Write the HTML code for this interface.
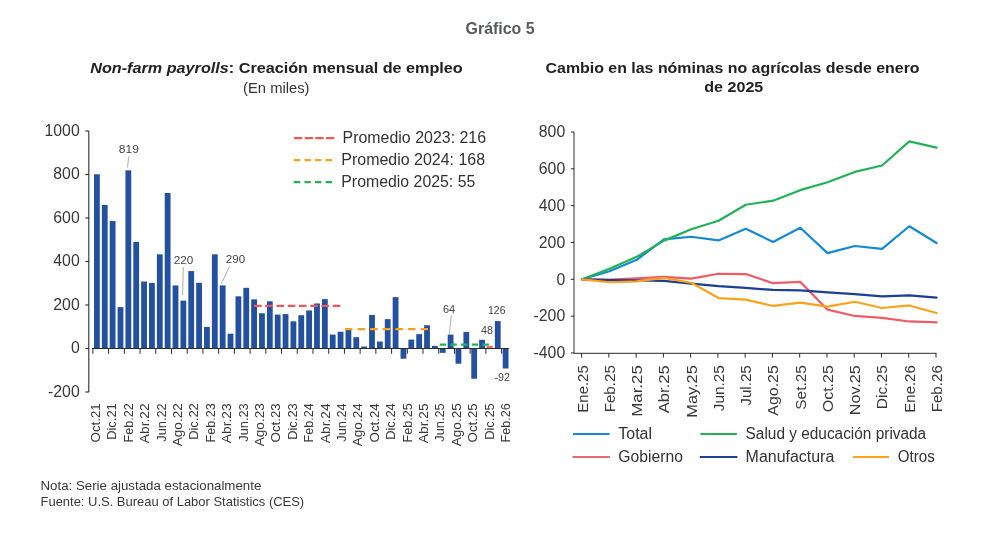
<!DOCTYPE html>
<html lang="es"><head><meta charset="utf-8"><title>Gráfico 5</title>
<style>html,body{margin:0;padding:0;background:#fff}svg{display:block}text{font-family:'Liberation Sans', Arial, sans-serif}</style>
</head><body>
<svg width="1001" height="542" viewBox="0 0 1001 542">
<rect width="1001" height="542" fill="#fff"/>
<text x="500.1" y="33.8" font-size="16.1" fill="#58595b" text-anchor="middle" font-weight="bold" textLength="69" lengthAdjust="spacingAndGlyphs">Gráfico 5</text>
<text x="276.5" y="72.9" font-size="15.3" fill="#222" text-anchor="middle" font-weight="bold" textLength="372.5" lengthAdjust="spacingAndGlyphs"><tspan font-style="italic">Non-farm payrolls</tspan>: Creación mensual de empleo</text>
<text x="276.3" y="93" font-size="14.5" fill="#333" text-anchor="middle" textLength="66.5" lengthAdjust="spacingAndGlyphs">(En miles)</text>
<text x="732.6" y="72.9" font-size="15.3" fill="#222" text-anchor="middle" font-weight="bold" textLength="374" lengthAdjust="spacingAndGlyphs">Cambio en las nóminas no agrícolas desde enero</text>
<text x="733.8" y="92.1" font-size="15.3" fill="#222" text-anchor="middle" font-weight="bold" textLength="59" lengthAdjust="spacingAndGlyphs">de 2025</text>
<g stroke="#2b2b2b" stroke-width="1.1" fill="none">
<path d="M88.8 131V392"/>
<path d="M85.3 392.00H88.8"/>
<path d="M85.3 348.50H88.8"/>
<path d="M85.3 305.00H88.8"/>
<path d="M85.3 261.50H88.8"/>
<path d="M85.3 218.00H88.8"/>
<path d="M85.3 174.50H88.8"/>
<path d="M85.3 131.00H88.8"/>
</g>
<text x="79.7" y="396.9" font-size="15.8" fill="#383838" text-anchor="end">-200</text>
<text x="79.7" y="353.4" font-size="15.8" fill="#383838" text-anchor="end">0</text>
<text x="79.7" y="309.9" font-size="15.8" fill="#383838" text-anchor="end">200</text>
<text x="79.7" y="266.4" font-size="15.8" fill="#383838" text-anchor="end">400</text>
<text x="79.7" y="222.9" font-size="15.8" fill="#383838" text-anchor="end">600</text>
<text x="79.7" y="179.4" font-size="15.8" fill="#383838" text-anchor="end">800</text>
<text x="79.7" y="135.9" font-size="15.8" fill="#383838" text-anchor="end">1000</text>
<g fill="#23509f">
<rect x="94.00" y="174.28" width="5.8" height="174.22"/>
<rect x="101.86" y="204.95" width="5.8" height="143.55"/>
<rect x="109.72" y="221.05" width="5.8" height="127.45"/>
<rect x="117.58" y="307.18" width="5.8" height="41.33"/>
<rect x="125.44" y="170.37" width="5.8" height="178.13"/>
<rect x="133.30" y="241.93" width="5.8" height="106.58"/>
<rect x="141.16" y="281.51" width="5.8" height="66.99"/>
<rect x="149.02" y="283.03" width="5.8" height="65.47"/>
<rect x="156.88" y="254.32" width="5.8" height="94.18"/>
<rect x="164.74" y="192.99" width="5.8" height="155.51"/>
<rect x="172.60" y="285.43" width="5.8" height="63.08"/>
<rect x="180.46" y="300.65" width="5.8" height="47.85"/>
<rect x="188.32" y="271.07" width="5.8" height="77.43"/>
<rect x="196.18" y="282.81" width="5.8" height="65.69"/>
<rect x="204.04" y="326.97" width="5.8" height="21.53"/>
<rect x="211.90" y="254.32" width="5.8" height="94.18"/>
<rect x="219.76" y="285.43" width="5.8" height="63.08"/>
<rect x="227.62" y="333.71" width="5.8" height="14.79"/>
<rect x="235.48" y="296.30" width="5.8" height="52.20"/>
<rect x="243.34" y="287.82" width="5.8" height="60.68"/>
<rect x="251.20" y="299.35" width="5.8" height="49.16"/>
<rect x="259.06" y="313.26" width="5.8" height="35.23"/>
<rect x="266.92" y="301.30" width="5.8" height="47.20"/>
<rect x="274.78" y="314.57" width="5.8" height="33.93"/>
<rect x="282.64" y="314.13" width="5.8" height="34.37"/>
<rect x="290.50" y="321.31" width="5.8" height="27.19"/>
<rect x="298.36" y="315.22" width="5.8" height="33.28"/>
<rect x="306.22" y="310.44" width="5.8" height="38.06"/>
<rect x="314.08" y="303.48" width="5.8" height="45.02"/>
<rect x="321.94" y="299.13" width="5.8" height="49.37"/>
<rect x="329.80" y="334.58" width="5.8" height="13.92"/>
<rect x="337.66" y="331.75" width="5.8" height="16.75"/>
<rect x="345.52" y="330.01" width="5.8" height="18.49"/>
<rect x="353.38" y="337.19" width="5.8" height="11.31"/>
<rect x="361.24" y="346.54" width="5.8" height="1.96"/>
<rect x="369.10" y="315.00" width="5.8" height="33.49"/>
<rect x="376.96" y="341.54" width="5.8" height="6.96"/>
<rect x="384.82" y="319.14" width="5.8" height="29.36"/>
<rect x="392.68" y="297.17" width="5.8" height="51.33"/>
<rect x="400.54" y="348.5" width="5.8" height="10.22"/>
<rect x="408.40" y="339.58" width="5.8" height="8.92"/>
<rect x="416.26" y="334.14" width="5.8" height="14.36"/>
<rect x="424.12" y="325.23" width="5.8" height="23.27"/>
<rect x="431.98" y="345.89" width="5.8" height="2.61"/>
<rect x="439.84" y="348.5" width="5.8" height="4.35"/>
<rect x="447.70" y="334.58" width="5.8" height="13.92"/>
<rect x="455.56" y="348.5" width="5.8" height="15.22"/>
<rect x="463.42" y="331.97" width="5.8" height="16.53"/>
<rect x="471.28" y="348.5" width="5.8" height="30.23"/>
<rect x="479.14" y="339.80" width="5.8" height="8.70"/>
<rect x="494.86" y="321.10" width="5.8" height="27.41"/>
<rect x="502.72" y="348.5" width="5.8" height="20.01"/>
</g>
<rect x="486.5" y="345.8" width="6.3" height="2.5" fill="#f26a6d"/>
<g stroke="#2b2b2b" stroke-width="1" fill="none">
<path d="M92 348.5H508.8"/>
<path d="M92.90 348.5V353.8"/>
<path d="M108.62 348.5V353.8"/>
<path d="M124.34 348.5V353.8"/>
<path d="M140.06 348.5V353.8"/>
<path d="M155.78 348.5V353.8"/>
<path d="M171.50 348.5V353.8"/>
<path d="M187.22 348.5V353.8"/>
<path d="M202.94 348.5V353.8"/>
<path d="M218.66 348.5V353.8"/>
<path d="M234.38 348.5V353.8"/>
<path d="M250.10 348.5V353.8"/>
<path d="M265.82 348.5V353.8"/>
<path d="M281.54 348.5V353.8"/>
<path d="M297.26 348.5V353.8"/>
<path d="M312.98 348.5V353.8"/>
<path d="M328.70 348.5V353.8"/>
<path d="M344.42 348.5V353.8"/>
<path d="M360.14 348.5V353.8"/>
<path d="M375.86 348.5V353.8"/>
<path d="M391.58 348.5V353.8"/>
<path d="M407.30 348.5V353.8"/>
<path d="M423.02 348.5V353.8"/>
<path d="M438.74 348.5V353.8"/>
<path d="M454.46 348.5V353.8"/>
<path d="M470.18 348.5V353.8"/>
<path d="M485.90 348.5V353.8"/>
<path d="M501.62 348.5V353.8"/>
</g>
<g fill="none" stroke-width="2.3">
<path d="M254 305.85H341.2" stroke="#f0575a" stroke-dasharray="7.6 3.65"/>
<path d="M345 329.1H428" stroke="#f9a11b" stroke-dasharray="7.5 5.1"/>
<path d="M439.7 344.6H489.2" stroke="#23b158" stroke-dasharray="6.4 4.3"/>
</g>
<text transform="translate(99.90 403.3) rotate(-90)" font-size="13.6" fill="#383838" text-anchor="end" textLength="39.1" lengthAdjust="spacingAndGlyphs">Oct.21</text>
<text transform="translate(116.30 403.3) rotate(-90)" font-size="13.6" fill="#383838" text-anchor="end" textLength="36.5" lengthAdjust="spacingAndGlyphs">Dic.21</text>
<text transform="translate(132.70 403.3) rotate(-90)" font-size="13.6" fill="#383838" text-anchor="end" textLength="39.1" lengthAdjust="spacingAndGlyphs">Feb.22</text>
<text transform="translate(149.10 403.3) rotate(-90)" font-size="13.6" fill="#383838" text-anchor="end" textLength="39.9" lengthAdjust="spacingAndGlyphs">Abr.22</text>
<text transform="translate(165.50 403.3) rotate(-90)" font-size="13.6" fill="#383838" text-anchor="end" textLength="38.4" lengthAdjust="spacingAndGlyphs">Jun.22</text>
<text transform="translate(181.90 403.3) rotate(-90)" font-size="13.6" fill="#383838" text-anchor="end" textLength="42.9" lengthAdjust="spacingAndGlyphs">Ago.22</text>
<text transform="translate(198.30 403.3) rotate(-90)" font-size="13.6" fill="#383838" text-anchor="end" textLength="36.5" lengthAdjust="spacingAndGlyphs">Dic.22</text>
<text transform="translate(214.70 403.3) rotate(-90)" font-size="13.6" fill="#383838" text-anchor="end" textLength="39.1" lengthAdjust="spacingAndGlyphs">Feb.23</text>
<text transform="translate(231.10 403.3) rotate(-90)" font-size="13.6" fill="#383838" text-anchor="end" textLength="39.9" lengthAdjust="spacingAndGlyphs">Abr.23</text>
<text transform="translate(247.50 403.3) rotate(-90)" font-size="13.6" fill="#383838" text-anchor="end" textLength="38.4" lengthAdjust="spacingAndGlyphs">Jun.23</text>
<text transform="translate(263.90 403.3) rotate(-90)" font-size="13.6" fill="#383838" text-anchor="end" textLength="42.9" lengthAdjust="spacingAndGlyphs">Ago.23</text>
<text transform="translate(280.30 403.3) rotate(-90)" font-size="13.6" fill="#383838" text-anchor="end" textLength="39.1" lengthAdjust="spacingAndGlyphs">Oct.23</text>
<text transform="translate(296.70 403.3) rotate(-90)" font-size="13.6" fill="#383838" text-anchor="end" textLength="36.5" lengthAdjust="spacingAndGlyphs">Dic.23</text>
<text transform="translate(313.10 403.3) rotate(-90)" font-size="13.6" fill="#383838" text-anchor="end" textLength="39.1" lengthAdjust="spacingAndGlyphs">Feb.24</text>
<text transform="translate(329.50 403.3) rotate(-90)" font-size="13.6" fill="#383838" text-anchor="end" textLength="39.9" lengthAdjust="spacingAndGlyphs">Abr.24</text>
<text transform="translate(345.90 403.3) rotate(-90)" font-size="13.6" fill="#383838" text-anchor="end" textLength="38.4" lengthAdjust="spacingAndGlyphs">Jun.24</text>
<text transform="translate(362.30 403.3) rotate(-90)" font-size="13.6" fill="#383838" text-anchor="end" textLength="42.9" lengthAdjust="spacingAndGlyphs">Ago.24</text>
<text transform="translate(378.70 403.3) rotate(-90)" font-size="13.6" fill="#383838" text-anchor="end" textLength="39.1" lengthAdjust="spacingAndGlyphs">Oct.24</text>
<text transform="translate(395.10 403.3) rotate(-90)" font-size="13.6" fill="#383838" text-anchor="end" textLength="36.5" lengthAdjust="spacingAndGlyphs">Dic.24</text>
<text transform="translate(411.50 403.3) rotate(-90)" font-size="13.6" fill="#383838" text-anchor="end" textLength="39.1" lengthAdjust="spacingAndGlyphs">Feb.25</text>
<text transform="translate(427.90 403.3) rotate(-90)" font-size="13.6" fill="#383838" text-anchor="end" textLength="39.9" lengthAdjust="spacingAndGlyphs">Abr.25</text>
<text transform="translate(444.30 403.3) rotate(-90)" font-size="13.6" fill="#383838" text-anchor="end" textLength="38.4" lengthAdjust="spacingAndGlyphs">Jun.25</text>
<text transform="translate(460.70 403.3) rotate(-90)" font-size="13.6" fill="#383838" text-anchor="end" textLength="42.9" lengthAdjust="spacingAndGlyphs">Ago.25</text>
<text transform="translate(477.10 403.3) rotate(-90)" font-size="13.6" fill="#383838" text-anchor="end" textLength="39.1" lengthAdjust="spacingAndGlyphs">Oct.25</text>
<text transform="translate(493.50 403.3) rotate(-90)" font-size="13.6" fill="#383838" text-anchor="end" textLength="36.5" lengthAdjust="spacingAndGlyphs">Dic.25</text>
<text transform="translate(509.90 403.3) rotate(-90)" font-size="13.6" fill="#383838" text-anchor="end" textLength="39.1" lengthAdjust="spacingAndGlyphs">Feb.26</text>
<text x="118.8" y="153.1" font-size="11.5" fill="#444" textLength="20" lengthAdjust="spacingAndGlyphs">819</text>
<text x="173.8" y="264.2" font-size="11.5" fill="#444" textLength="19.5" lengthAdjust="spacingAndGlyphs">220</text>
<text x="225.8" y="263.2" font-size="11.5" fill="#444" textLength="19.3" lengthAdjust="spacingAndGlyphs">290</text>
<text x="443" y="312.8" font-size="11.5" fill="#444" textLength="12.2" lengthAdjust="spacingAndGlyphs">64</text>
<text x="488" y="313.8" font-size="11.5" fill="#444" textLength="17.5" lengthAdjust="spacingAndGlyphs">126</text>
<text x="481" y="333.7" font-size="11.5" fill="#444" textLength="12" lengthAdjust="spacingAndGlyphs">48</text>
<text x="494.5" y="380.8" font-size="11.5" fill="#444" textLength="15.5" lengthAdjust="spacingAndGlyphs">-92</text>
<g stroke="#9a9a9a" stroke-width="0.8" fill="none">
<path d="M128.8 156.2L127.5 167.5"/>
<path d="M183.3 267L182.6 295"/>
<path d="M229.5 266.3L221.3 283.8"/>
<path d="M451.2 315.5L449.5 333.5"/>
</g>
<g fill="none" stroke-width="2.3">
<path d="M294 138.1H334.2" stroke="#f0575a" stroke-dasharray="8.3 2.35"/>
<path d="M293.8 160.1H332" stroke="#f9a11b" stroke-dasharray="6.4 4.2"/>
<path d="M293.8 182.2H332" stroke="#23b158" stroke-dasharray="6.4 4.2"/>
</g>
<text x="342.5" y="142.8" font-size="15.8" fill="#333" textLength="143.6" lengthAdjust="spacingAndGlyphs">Promedio 2023: 216</text>
<text x="341.3" y="165" font-size="15.8" fill="#333" textLength="143.8" lengthAdjust="spacingAndGlyphs">Promedio 2024: 168</text>
<text x="341.3" y="187.1" font-size="15.8" fill="#333" textLength="134" lengthAdjust="spacingAndGlyphs">Promedio 2025: 55</text>
<g stroke="#2b2b2b" stroke-width="1" fill="none">
<path d="M574 132V353.3H936.6"/>
<path d="M570.8 352.96H574"/>
<path d="M570.8 316.13H574"/>
<path d="M570.8 279.30H574"/>
<path d="M570.8 242.47H574"/>
<path d="M570.8 205.64H574"/>
<path d="M570.8 168.81H574"/>
<path d="M570.8 131.98H574"/>
<path d="M581.60 353.3V357.6"/>
<path d="M608.86 353.3V357.6"/>
<path d="M636.12 353.3V357.6"/>
<path d="M663.38 353.3V357.6"/>
<path d="M690.64 353.3V357.6"/>
<path d="M717.90 353.3V357.6"/>
<path d="M745.16 353.3V357.6"/>
<path d="M772.42 353.3V357.6"/>
<path d="M799.68 353.3V357.6"/>
<path d="M826.94 353.3V357.6"/>
<path d="M854.20 353.3V357.6"/>
<path d="M881.46 353.3V357.6"/>
<path d="M908.72 353.3V357.6"/>
<path d="M935.98 353.3V357.6"/>
</g>
<text x="565.2" y="358.16" font-size="15.8" fill="#383838" text-anchor="end">-400</text>
<text x="565.2" y="321.33" font-size="15.8" fill="#383838" text-anchor="end">-200</text>
<text x="565.2" y="284.5" font-size="15.8" fill="#383838" text-anchor="end">0</text>
<text x="565.2" y="247.67" font-size="15.8" fill="#383838" text-anchor="end">200</text>
<text x="565.2" y="210.84" font-size="15.8" fill="#383838" text-anchor="end">400</text>
<text x="565.2" y="174.01" font-size="15.8" fill="#383838" text-anchor="end">600</text>
<text x="565.2" y="137.18" font-size="15.8" fill="#383838" text-anchor="end">800</text>
<g fill="none" stroke-width="2.2" stroke-linejoin="round" stroke-linecap="round">
<path d="M582.20 279.30L609.46 271.20L636.72 259.78L663.98 239.34L691.24 236.76L718.50 240.44L745.76 228.84L773.02 241.92L800.28 227.74L827.54 253.15L854.80 245.97L882.06 248.92L909.32 226.26L936.58 243.02" stroke="#1488d2"/>
<path d="M582.20 279.30L609.46 268.80L636.72 256.83L663.98 240.63L691.24 229.21L718.50 220.74L745.76 204.72L773.02 200.67L800.28 190.17L827.54 182.25L854.80 171.94L882.06 165.50L909.32 141.37L936.58 147.63" stroke="#23b158"/>
<path d="M582.20 279.30L609.46 279.48L636.72 278.38L663.98 276.91L691.24 278.56L718.50 273.78L745.76 274.03L773.02 283.17L800.28 281.88L827.54 309.68L854.80 315.95L882.06 317.79L909.32 321.47L936.58 322.39" stroke="#ef5b66"/>
<path d="M582.20 279.30L609.46 280.04L636.72 280.40L663.98 280.96L691.24 283.54L718.50 286.11L745.76 287.96L773.02 289.93L800.28 290.35L827.54 292.37L854.80 294.22L882.06 296.43L909.32 295.41L936.58 297.53" stroke="#1a3f94"/>
<path d="M582.20 279.30L609.46 282.25L636.72 281.33L663.98 277.83L691.24 282.73L718.50 298.08L745.76 299.65L773.02 305.95L800.28 302.69L827.54 306.66L854.80 301.71L882.06 308.01L909.32 305.45L936.58 312.94" stroke="#faa21e"/>
</g>
<text transform="translate(587.50 365.2) rotate(-90)" font-size="14.8" fill="#383838" text-anchor="end" textLength="47.5" lengthAdjust="spacingAndGlyphs">Ene.25</text>
<text transform="translate(614.76 365.2) rotate(-90)" font-size="14.8" fill="#383838" text-anchor="end" textLength="47.1" lengthAdjust="spacingAndGlyphs">Feb.25</text>
<text transform="translate(642.02 365.2) rotate(-90)" font-size="14.8" fill="#383838" text-anchor="end" textLength="51.5" lengthAdjust="spacingAndGlyphs">Mar.25</text>
<text transform="translate(669.28 365.2) rotate(-90)" font-size="14.8" fill="#383838" text-anchor="end" textLength="48.1" lengthAdjust="spacingAndGlyphs">Abr.25</text>
<text transform="translate(696.54 365.2) rotate(-90)" font-size="14.8" fill="#383838" text-anchor="end" textLength="52.5" lengthAdjust="spacingAndGlyphs">May.25</text>
<text transform="translate(723.80 365.2) rotate(-90)" font-size="14.8" fill="#383838" text-anchor="end" textLength="46.1" lengthAdjust="spacingAndGlyphs">Jun.25</text>
<text transform="translate(751.06 365.2) rotate(-90)" font-size="14.8" fill="#383838" text-anchor="end" textLength="40.5" lengthAdjust="spacingAndGlyphs">Jul.25</text>
<text transform="translate(778.32 365.2) rotate(-90)" font-size="14.8" fill="#383838" text-anchor="end" textLength="50.5" lengthAdjust="spacingAndGlyphs">Ago.25</text>
<text transform="translate(805.58 365.2) rotate(-90)" font-size="14.8" fill="#383838" text-anchor="end" textLength="44.5" lengthAdjust="spacingAndGlyphs">Set.25</text>
<text transform="translate(832.84 365.2) rotate(-90)" font-size="14.8" fill="#383838" text-anchor="end" textLength="47.1" lengthAdjust="spacingAndGlyphs">Oct.25</text>
<text transform="translate(860.10 365.2) rotate(-90)" font-size="14.8" fill="#383838" text-anchor="end" textLength="50.1" lengthAdjust="spacingAndGlyphs">Nov.25</text>
<text transform="translate(887.36 365.2) rotate(-90)" font-size="14.8" fill="#383838" text-anchor="end" textLength="44.1" lengthAdjust="spacingAndGlyphs">Dic.25</text>
<text transform="translate(914.62 365.2) rotate(-90)" font-size="14.8" fill="#383838" text-anchor="end" textLength="47.5" lengthAdjust="spacingAndGlyphs">Ene.26</text>
<text transform="translate(941.88 365.2) rotate(-90)" font-size="14.8" fill="#383838" text-anchor="end" textLength="47.1" lengthAdjust="spacingAndGlyphs">Feb.26</text>
<g fill="none" stroke-width="2.2">
<path d="M573 434H609.6" stroke="#1488d2"/>
<path d="M700.4 434H736.9" stroke="#23b158"/>
<path d="M572.6 457H609.9" stroke="#f0666e"/>
<path d="M699.8 457H737.4" stroke="#1a3f94"/>
<path d="M852.9 457H888.9" stroke="#faa21e"/>
</g>
<text x="618.3" y="438.5" font-size="15.6" fill="#333" textLength="33.7" lengthAdjust="spacingAndGlyphs">Total</text>
<text x="745.6" y="438.5" font-size="15.6" fill="#333" textLength="180.6" lengthAdjust="spacingAndGlyphs">Salud y educación privada</text>
<text x="618.3" y="461.5" font-size="15.6" fill="#333" textLength="64.6" lengthAdjust="spacingAndGlyphs">Gobierno</text>
<text x="745.6" y="461.5" font-size="15.6" fill="#333" textLength="88.7" lengthAdjust="spacingAndGlyphs">Manufactura</text>
<text x="897.8" y="461.5" font-size="15.6" fill="#333" textLength="37" lengthAdjust="spacingAndGlyphs">Otros</text>
<text x="40.5" y="489.5" font-size="12.9" fill="#383838" textLength="220.8" lengthAdjust="spacingAndGlyphs">Nota: Serie ajustada estacionalmente</text>
<text x="40.5" y="506" font-size="12.9" fill="#383838" textLength="263.7" lengthAdjust="spacingAndGlyphs">Fuente: U.S. Bureau of Labor Statistics (CES)</text>
</svg>
</body></html>
